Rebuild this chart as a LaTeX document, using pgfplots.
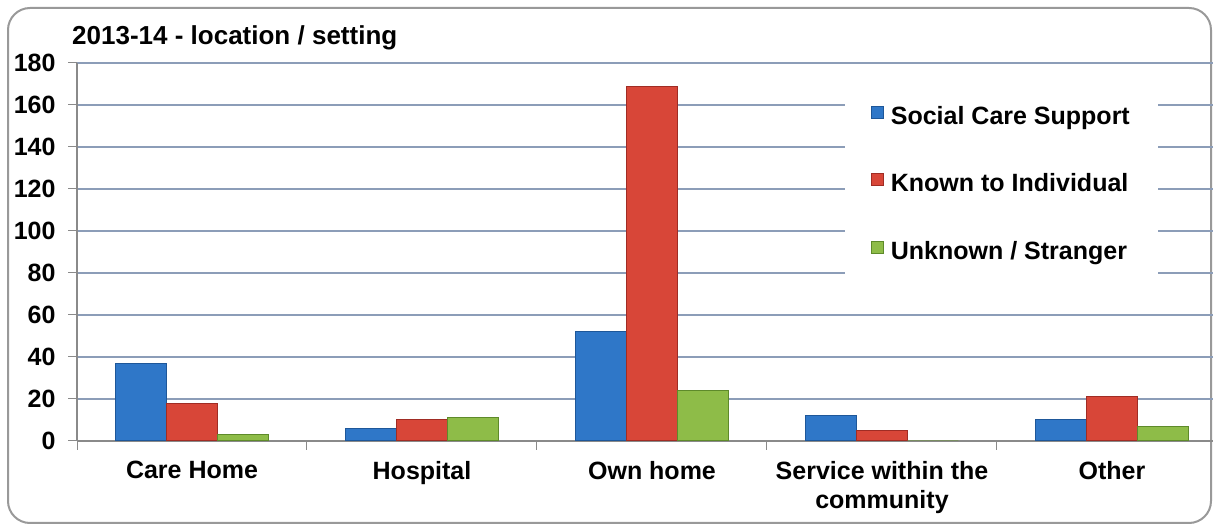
\documentclass[border=0pt]{standalone}
\usepackage{fontspec}
\setmainfont{Liberation Sans}
\usepackage{pgfplots}
\pgfplotsset{compat=1.18}
\definecolor{bfill}{HTML}{2F77C8}
\definecolor{bdraw}{HTML}{1E5799}
\definecolor{rfill}{HTML}{D84638}
\definecolor{rdraw}{HTML}{A02C24}
\definecolor{gfill}{HTML}{8EBC48}
\definecolor{gdraw}{HTML}{5E8A2A}
\definecolor{gridc}{HTML}{8C9DB8}
\definecolor{axc}{HTML}{8A8A8A}
\newcommand{\bigf}{\bfseries\fontsize{25}{29}\selectfont}
\begin{document}
\begin{tikzpicture}[x=1pt,y=1pt]
\useasboundingbox (0,0) rectangle (1213,530);
\clip (0,0) rectangle (1213,530);
\draw[rounded corners=22pt, line width=2pt, color=black!40] (8,7) rectangle (1211,522);
\node[anchor=base west, inner sep=0pt, font=\bfseries\fontsize{26}{30}\selectfont] at (72,485) {2013-14 - location / setting};
\begin{axis}[
  at={(77pt,89pt)}, anchor=south west,
  width=1150pt, height=378pt, scale only axis,
  xmin=-0.5, xmax=4.5, ymin=0, ymax=180,
  ytick={0,20,...,180},
  xtick={0,1,2,3,4},
  xticklabels={Care Home, Hospital, Own home, {Service within the\\community}, Other},
  xtick style={draw=none},
  extra x ticks={-0.5,0.5,1.5,2.5,3.5},
  extra x tick labels={},
  extra x tick style={grid=none, xtick style={draw=axc, line width=1pt}},
  axis x line*=bottom, axis y line*=left,
  axis line style={draw=axc, line width=1.2pt},
  tick align=outside, major tick length=9pt,
  ytick style={draw=axc, line width=1pt},
  ymajorgrids, grid style={draw=gridc, line width=1.3pt},
  /pgf/number format/assume math mode=true,
  ticklabel style={font=\bigf},
  xticklabel style={align=center, yshift=-8pt},
  yticklabel style={xshift=-9pt},
  ybar=0pt, bar width=51pt,
  legend style={at={(rel axis cs:0.668,0.942)}, anchor=north west, draw=none, fill=white,
    font=\bigf, row sep=44pt, inner xsep=26pt, inner ysep=19pt,
    /tikz/every odd column/.append style={column sep=5pt}},
  legend cell align=left,
  legend image code/.code={\draw[#1, line width=0.5pt] (0pt,-2pt) rectangle (12pt,10pt);},
]
\addplot[fill=bfill, draw=bdraw, line width=1pt, bar shift=-51pt] coordinates {(0,37) (1,6) (2,52) (3,12) (4,10)};
\addplot[fill=rfill, draw=rdraw, line width=1pt, bar shift=0pt] coordinates {(0,18) (1,10) (2,169) (3,5) (4,21)};
\addplot[fill=gfill, draw=gdraw, line width=1pt, bar shift=51pt] coordinates {(0,3) (1,11) (2,24) (3,0) (4,7)};
\legend{Social Care Support, Known to Individual, Unknown / Stranger}
\end{axis}
\end{tikzpicture}
\end{document}
